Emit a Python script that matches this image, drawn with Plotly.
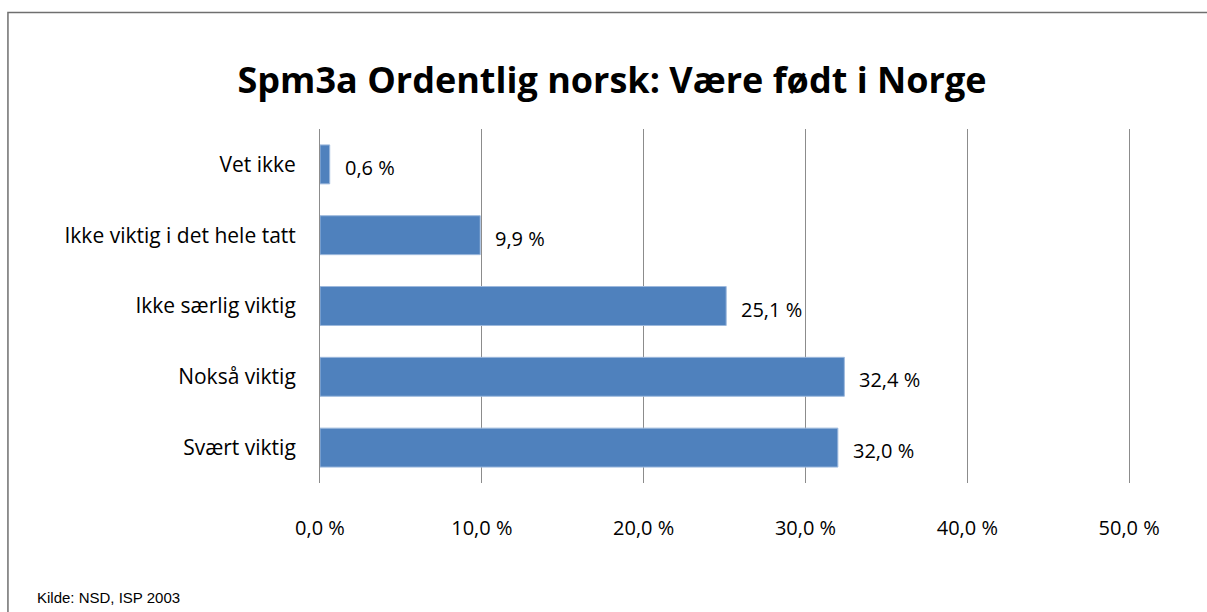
import plotly.graph_objects as go

categories = ["Vet ikke", "Ikke viktig i det hele tatt", "Ikke særlig viktig", "Nokså viktig", "Svært viktig"]
values = [0.6, 9.9, 25.1, 32.4, 32.0]
x_ticks = [0, 10, 20, 30, 40, 50]
title_text = "Spm3a Ordentlig norsk: Være født i Norge"
source_text = "Kilde: NSD, ISP 2003"

W, H = 1207, 612
X_MAX = 50.3
L, T, B = 320, 129, 129
unit = (1129 - 320) / 50.0
pw = X_MAX * unit
R = W - L - pw
ph = H - T - B

def px_x(p):
    return (p - L) / pw

def px_y(p):
    return (H - B - p) / ph

def pct(v):
    return f"{v:.1f}".replace(".", ",") + " %"

font_main = "Open Sans, Calibri, Carlito, sans-serif"

fig = go.Figure()
fig.add_trace(go.Bar(
    y=categories, x=values, orientation="h",
    marker=dict(color="#4F81BD", line=dict(color="#9DB9DD", width=1)),
    width=0.55, hoverinfo="skip",
))

for c, v in zip(categories, values):
    fig.add_annotation(
        x=v, y=c, xref="x", yref="y",
        text=pct(v),
        showarrow=False, xanchor="left", yanchor="middle", xshift=13, yshift=-3,
        font=dict(family=font_main, size=20, color="#000000"),
    )

fig.add_annotation(
    x=px_x(35), y=px_y(597), xref="paper", yref="paper",
    text=source_text, showarrow=False, xanchor="left", yanchor="middle",
    font=dict(family="Liberation Sans Narrow, Arial Narrow, Liberation Sans, sans-serif", size=15, color="#000000"),
)

fig.add_shape(
    type="rect", xref="paper", yref="paper",
    x0=px_x(8), x1=px_x(1230), y0=px_y(12.5), y1=px_y(640),
    line=dict(color="#6f6f6f", width=1.5), fillcolor="rgba(0,0,0,0)", layer="below",
)

fig.update_layout(
    width=W, height=H,
    margin=dict(l=L, r=R, t=T, b=B, pad=0),
    paper_bgcolor="white", plot_bgcolor="white",
    showlegend=False,
    title=dict(
        text=f"<b>{title_text}</b>", xref="container", yref="container",
        x=612 / W, y=1 - 80 / H, xanchor="center", yanchor="middle",
        font=dict(family=font_main, size=36, color="#000000"),
    ),
    xaxis=dict(
        range=[0, X_MAX], tickvals=x_ticks, ticktext=[pct(t) for t in x_ticks],
        showgrid=True, gridcolor="#8c8c8c", gridwidth=1,
        zeroline=False, showline=False, ticks="",
        ticklabelstandoff=31,
        tickfont=dict(family=font_main, size=20, color="#000000"),
        fixedrange=True,
    ),
    yaxis=dict(
        categoryorder="array", categoryarray=categories, autorange="reversed",
        showgrid=False, zeroline=False, showline=True, linecolor="#8c8c8c", linewidth=1,
        ticks="", ticklabelstandoff=19,
        tickfont=dict(family=font_main, size=21, color="#000000"),
        fixedrange=True,
    ),
)

fig.write_html(
    "out.html",
    config={"displayModeBar": False},
    post_script="document.body.style.margin='0';document.body.style.overflow='hidden';",
)
